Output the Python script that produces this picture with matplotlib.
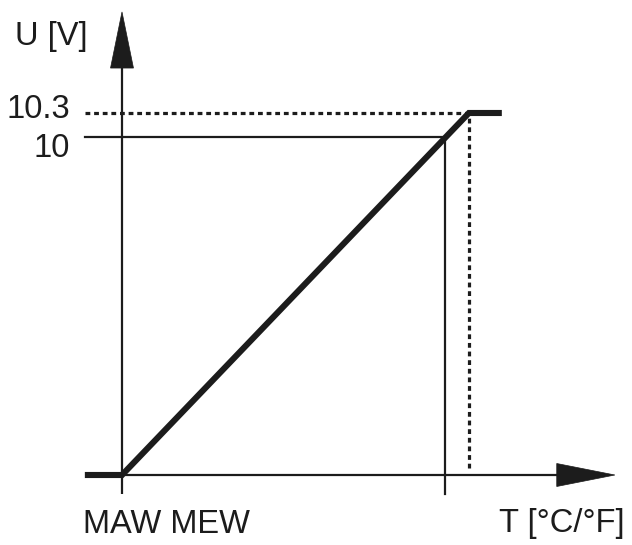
import matplotlib
matplotlib.use('Agg')
import matplotlib.pyplot as plt

# Kennlinie (normiert: MAW = 0, MEW = 1, Ausgang 10 V = 1)
curve_t = [-0.115, 0.0, 1.074, 1.176]
curve_u = [0.0, 0.0, 1.071, 1.071]

# Bezugslinien
ref_u = [1.0, 1.071]
ref_labels = ['10', '10.3']
mew_t = 1.0
clip_t = 1.074

x_label = 'T [°C/°F]'
y_label = 'U [V]'
x_tick_text = 'MAW MEW'

plt.rcParams['font.family'] = ['Liberation Sans', 'DejaVu Sans']
ink = '#1c1c1c'
fs = 23.5

fig = plt.figure(figsize=(6.32, 5.45), dpi=100)
ax = fig.add_axes([0, 0, 1, 1])
ax.set_xlim(-0.3777, 1.579)
ax.set_ylim(-0.2071, 1.4053)
ax.axis('off')

# Achsen mit Pfeilen
ax.plot([-0.115, 1.36], [0, 0], color=ink, lw=1.6, solid_capstyle='butt')
ax.plot([0, 0], [-0.056, 1.21], color=ink, lw=1.6, solid_capstyle='butt')
ax.arrow(1.34, 0, 0.186, 0, head_width=0.068, head_length=0.18,
         length_includes_head=True, fc=ink, ec=ink, lw=0.5)
ax.arrow(0, 1.19, 0, 0.18, head_width=0.071, head_length=0.166,
         length_includes_head=True, fc=ink, ec=ink, lw=0.5)

# 10 V Linie und MEW
ax.plot([-0.115, mew_t], [ref_u[0], ref_u[0]], color=ink, lw=1.6)
ax.plot([mew_t, mew_t], [-0.056, ref_u[0]], color=ink, lw=1.6)

# 10.3 V gepunktet
dots = (0, (1.5, 1.2))
ax.plot([-0.115, clip_t], [ref_u[1], ref_u[1]], color=ink, lw=2.3, linestyle=dots)
ax.plot([clip_t, clip_t], [0.02, ref_u[1]], color=ink, lw=2.3, linestyle=dots)

# Kennlinie
ax.plot(curve_t, curve_u, color=ink, lw=4.4, solid_joinstyle='miter', solid_capstyle='butt')

# Beschriftung
ax.text(-0.161, 0.941, ref_labels[0], fontsize=fs, ha='right', va='baseline', color=ink)
ax.text(-0.161, 1.056, ref_labels[1], fontsize=fs, ha='right', va='baseline', color=ink)
ax.text(-0.22, 1.272, y_label, fontsize=fs, ha='center', va='baseline', color=ink)
ax.text(-0.121, -0.172, x_tick_text, fontsize=fs, ha='left', va='baseline', color=ink)
ax.text(1.557, -0.169, x_label, fontsize=fs, ha='right', va='baseline', color=ink)

fig.savefig('out.png', dpi=100)
